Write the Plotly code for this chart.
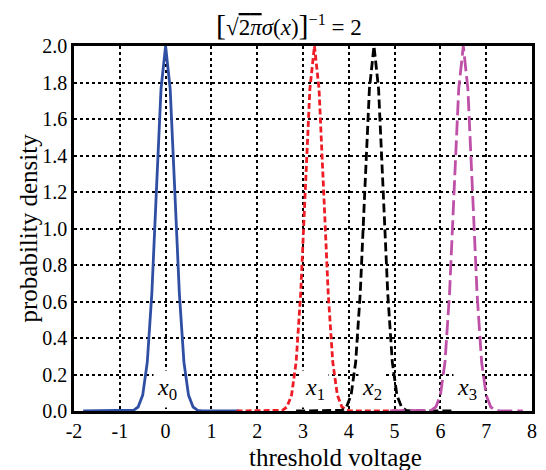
import plotly.graph_objects as go

# ---- data ----
x_blue = [-1.8, -1.7, -1.6, -1.5, -1.4, -1.3, -1.2, -1.1, -1.0, -0.9, -0.8, -0.7, -0.6, -0.5,
          -0.4, -0.3, -0.2, -0.1, 0.0, 0.1, 0.2, 0.3, 0.4, 0.5, 0.6, 0.7, 0.8, 0.9, 1.0, 1.1,
          1.2, 1.3, 1.4, 1.5, 1.6]
y_blue = [0, 0, 0, 0, 0, 0, 0, 0, 0, 0, 0,
          0.004, 0.022, 0.087, 0.268, 0.646, 1.21, 1.765, 2.0, 1.765, 1.21, 0.646, 0.268, 0.087, 0.022, 0.004,
          0, 0, 0, 0, 0, 0, 0, 0, 0]

x_red = [1.55, 1.65, 1.75, 1.85, 1.95, 2.05, 2.15, 2.25, 2.35, 2.45, 2.55, 2.65, 2.75, 2.85,
         2.95, 3.05, 3.15, 3.25, 3.35, 3.45, 3.55, 3.65, 3.75, 3.85, 3.95, 4.05, 4.15, 4.25,
         4.35, 4.45, 4.55, 4.65, 4.75, 4.85, 4.95, 5.05, 5.15, 5.25]
y_red = [0, 0, 0, 0, 0, 0, 0, 0, 0, 0,
         0.004, 0.022, 0.087, 0.268, 0.646, 1.21, 1.765, 2.0, 1.765, 1.21, 0.646, 0.268, 0.087, 0.022, 0.004,
         0, 0, 0, 0, 0, 0, 0, 0, 0, 0, 0, 0, 0]

x_black = [2.85, 2.95, 3.05, 3.15, 3.25, 3.35, 3.45, 3.55, 3.65, 3.75, 3.85, 3.95, 4.05, 4.15,
           4.25, 4.35, 4.45, 4.55, 4.65, 4.75, 4.85, 4.95, 5.05, 5.15, 5.25, 5.35, 5.45, 5.55,
           5.65, 5.75, 5.85, 5.95, 6.05, 6.15, 6.25]
y_black = [0, 0, 0, 0, 0, 0, 0, 0, 0, 0,
           0.004, 0.022, 0.087, 0.268, 0.646, 1.21, 1.765, 2.0, 1.765, 1.21, 0.646, 0.268, 0.087, 0.022, 0.004,
           0, 0, 0, 0, 0, 0, 0, 0, 0, 0]

x_mag = [4.9, 5.0, 5.1, 5.2, 5.3, 5.4, 5.5, 5.6, 5.7, 5.8, 5.9, 6.0, 6.1, 6.2, 6.3, 6.4, 6.5,
         6.6, 6.7, 6.8, 6.9, 7.0, 7.1, 7.2, 7.3, 7.4, 7.5, 7.6, 7.7, 7.8]
y_mag = [0, 0, 0, 0, 0, 0, 0, 0, 0,
         0.004, 0.022, 0.087, 0.268, 0.646, 1.21, 1.765, 2.0, 1.765, 1.21, 0.646, 0.268, 0.087, 0.022, 0.004,
         0, 0, 0, 0, 0, 0]

x_tick_vals = [-2, -1, 0, 1, 2, 3, 4, 5, 6, 7, 8]
x_tick_text = ["-2", "-1", "0", "1", "2", "3", "4", "5", "6", "7", "8"]
y_tick_vals = [0.0, 0.2, 0.4, 0.6, 0.8, 1.0, 1.2, 1.4, 1.6, 1.8, 2.0]

label_x = [0.03, 3.27, 4.5, 6.58]
label_txt = ["<i>x</i><sub>0</sub>", "<i>x</i><sub>1</sub>", "<i>x</i><sub>2</sub>", "<i>x</i><sub>3</sub>"]

FONT = "Liberation Serif"

fig = go.Figure()
fig.add_trace(go.Scatter(x=x_blue, y=y_blue, mode="lines",
                         line=dict(color="#2E4FA3", width=2.8)))
fig.add_trace(go.Scatter(x=x_red, y=y_red, mode="lines",
                         line=dict(color="#EE1C25", width=2.8, dash="6px,3px")))
fig.add_trace(go.Scatter(x=x_black, y=y_black, mode="lines",
                         line=dict(color="#000000", width=2.8, dash="9px,4px")))
fig.add_trace(go.Scatter(x=x_mag, y=y_mag, mode="lines",
                         line=dict(color="#BF50A8", width=2.8, dash="15px,5px")))

for lx, lt in zip(label_x, label_txt):
    fig.add_annotation(x=lx, y=0, xref="x", yref="y", yanchor="bottom", yshift=3,
                       text=lt, showarrow=False,
                       font=dict(family=FONT, size=24, color="black"),
                       bgcolor="white", borderpad=3)

title_txt = ("<span style='font-size:30px'>[</span>√<span style='text-decoration:overline'>2<i>π</i></span>"
             "<i>σ</i>(<i>x</i>)<span style='font-size:30px'>]</span><sup>−1</sup> = 2")
fig.add_annotation(x=0.469, y=1.0, xref="paper", yref="paper", yanchor="bottom", yshift=3,
                   text=title_txt, showarrow=False,
                   font=dict(family=FONT, size=23, color="black"))
fig.add_annotation(x=0.57, y=0, xref="paper", yref="paper", yanchor="top", yshift=-31,
                   text="threshold voltage", showarrow=False,
                   font=dict(family=FONT, size=25, color="black"))
fig.add_annotation(x=0, y=0.5, xref="paper", yref="paper", xanchor="center", xshift=-46,
                   text="probability density", textangle=-90, showarrow=False,
                   font=dict(family=FONT, size=25, color="black"))

axis_common = dict(showline=True, mirror=True, linecolor="black", linewidth=2.5,
                   showgrid=True, gridcolor="black", gridwidth=1.5, griddash="dot",
                   zeroline=False, ticks="",
                   tickfont=dict(family=FONT, size=20, color="black"))
fig.update_xaxes(range=[-2, 8], tickvals=x_tick_vals, ticktext=x_tick_text, **axis_common)
fig.update_yaxes(range=[0, 2], tickvals=y_tick_vals, tickformat=".1f", **axis_common)

fig.update_layout(width=546, height=470, showlegend=False,
                  font=dict(family=FONT, size=20, color="black"),
                  margin=dict(l=74, r=9, t=46, b=59),
                  plot_bgcolor="white", paper_bgcolor="white")

fig.write_html("out.html")
